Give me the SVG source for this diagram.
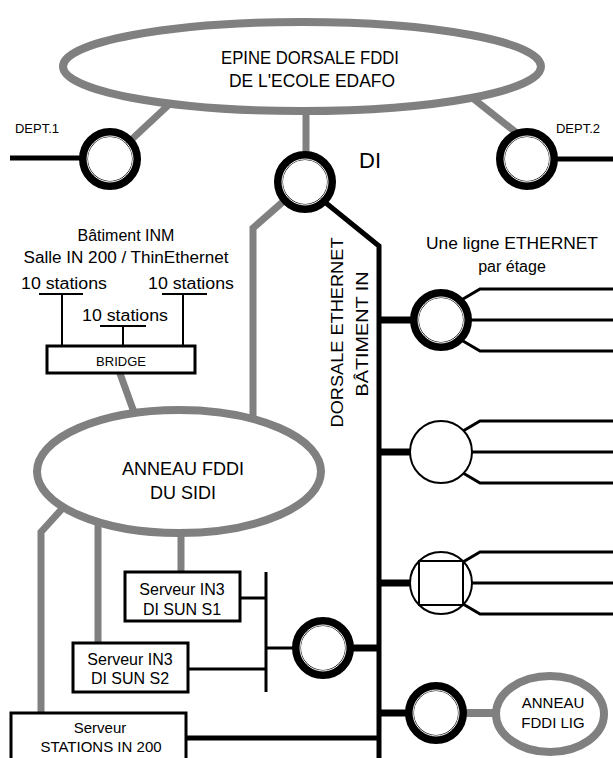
<svg xmlns="http://www.w3.org/2000/svg" width="613" height="758" viewBox="0 0 613 758">
<style>
.g{fill:none;stroke:#808080;stroke-width:7}
.b{fill:none;stroke:#000;stroke-width:5}
.bc{fill:none;stroke:#000;stroke-width:7}
.bt{fill:none;stroke:#000;stroke-width:3}
.bs{fill:none;stroke:#000;stroke-width:2}
.ring{fill:#fff;stroke:#000;stroke-width:9}
.rin{fill:none;stroke:#fff;stroke-width:1}
.circ{fill:#fff;stroke:#000;stroke-width:2}
.ell{fill:#fff;stroke:#808080;stroke-width:8}
.box{fill:#fff;stroke:#000;stroke-width:3}
text{font-family:"Liberation Sans",Arial,sans-serif;fill:#000;text-anchor:middle}
.cap{font-size:16px}
.hw{font-size:16px}
</style>
<rect width="613" height="758" fill="#fff"/>
<g id="connectors">
  <path class="g" d="M175,99 L131,140"/>
  <path class="g" d="M306,100 L306,160"/>
  <path class="g" d="M470,96 L518,134"/>
  <path class="g" d="M285,200 L253,228 L253,430"/>
  <path class="b" d="M326,203 L379,246 L379,758"/>
  <path class="b" d="M10,158 L85,158"/>
  <path class="b" d="M552,159 L613,159"/>
  <path class="g" d="M118,368 L135,415"/>
  <path class="g" d="M181,520 L181,574"/>
  <path class="g" d="M98,510 L98,644"/>
  <path class="g" d="M70,500 L41,532 L41,714"/>
  <path class="bs" d="M39,294 L83,294 M62,294 L62,347 M162,294 L207,294 M183,294 L183,347 M100,326 L146,326 M123,326 L123,347"/>
  <path class="bc" d="M379,320 L420,320 M379,452 L420,452 M379,583 L420,583 M379,648 L330,648 M379,713 L420,713"/>
  <path class="bt" d="M463,299 L480,289 L613,289 M441,320 L613,320 M463,341 L480,351 L613,351"/>
  <path class="bt" d="M463,431 L480,421 L613,421 M441,452 L613,452 M463,473 L480,483 L613,483"/>
  <path class="bt" d="M463,562 L480,552 L613,552 M441,583 L613,583 M463,604 L480,614 L613,614"/>
  <path class="bt" d="M266,572 L266,692 M266,648 L300,648 M240,598 L266,598 M188,669 L266,669"/>
  <path class="b" d="M186,738 L379,738"/>
  <path class="g" style="stroke-width:8" d="M460,713 L500,713"/>
</g>
<g id="epine">
  <ellipse class="ell" cx="302" cy="66.5" rx="239" ry="44.5"/>
  <text x="310" y="63.5" style="font-size:18px" textLength="178" lengthAdjust="spacingAndGlyphs">EPINE DORSALE FDDI</text>
  <text x="312" y="87" style="font-size:18px" textLength="166" lengthAdjust="spacingAndGlyphs">DE L'ECOLE  EDAFO</text>
</g>
<g id="dept1">
  <circle class="ring" cx="110" cy="159" r="26.5"/><circle class="rin" cx="110" cy="159" r="23"/>
  <text x="37" y="133" style="font-size:13px">DEPT.1</text>
</g>
<g id="dept2">
  <circle class="ring" cx="527" cy="159" r="26.5"/><circle class="rin" cx="527" cy="159" r="23"/>
  <text x="578" y="133" style="font-size:13px">DEPT.2</text>
</g>
<g id="di">
  <circle class="ring" cx="305" cy="182" r="26.5"/><circle class="rin" cx="305" cy="182" r="23"/>
  <text x="370" y="168" style="font-size:22px">DI</text>
</g>
<g id="dorsale-label">
  <text transform="translate(343,332.5) rotate(-90)" style="font-size:17px" textLength="190" lengthAdjust="spacingAndGlyphs">DORSALE  ETHERNET</text>
  <text transform="translate(368,334) rotate(-90)" style="font-size:17px" textLength="125" lengthAdjust="spacingAndGlyphs">BÂTIMENT  IN</text>
</g>
<g id="inm-label">
  <text class="hw" x="126" y="240.5">Bâtiment INM</text>
  <text class="hw" x="126" y="262.5" textLength="205" lengthAdjust="spacingAndGlyphs">Salle IN 200 / ThinEthernet</text>
  <text class="hw" x="64" y="289" textLength="86" lengthAdjust="spacingAndGlyphs">10 stations</text>
  <text class="hw" x="191" y="289" textLength="86" lengthAdjust="spacingAndGlyphs">10 stations</text>
  <text class="hw" x="125" y="321" textLength="86" lengthAdjust="spacingAndGlyphs">10 stations</text>
</g>
<g id="bridge">
  <rect class="box" x="47" y="346" width="148" height="27"/>
  <text x="121" y="365.5" style="font-size:13px">BRIDGE</text>
</g>
<g id="ethernet-label">
  <text class="hw" x="512" y="249" textLength="172" lengthAdjust="spacingAndGlyphs">Une ligne ETHERNET</text>
  <text class="hw" x="512" y="272">par étage</text>
</g>
<g id="eth1">
  <circle class="ring" cx="441" cy="320" r="26.5"/><circle class="rin" cx="441" cy="320" r="23"/>
</g>
<g id="eth2">
  <circle class="circ" cx="441" cy="452" r="31"/>
</g>
<g id="eth3">
  <circle class="circ" cx="441" cy="583" r="31"/>
  <rect x="419" y="561" width="44" height="44" fill="none" stroke="#000" stroke-width="2"/>
</g>
<g id="sidi">
  <ellipse class="ell" cx="179" cy="471.5" rx="142" ry="61.5"/>
  <text x="183" y="474.5" style="font-size:18px">ANNEAU FDDI</text>
  <text x="183" y="498.5" style="font-size:18px">DU SIDI</text>
</g>
<g id="s1">
  <rect class="box" x="125" y="572" width="115" height="49"/>
  <text class="cap" x="182" y="594.5">Serveur IN3</text>
  <text class="cap" x="182" y="614.5">DI SUN S1</text>
</g>
<g id="s2">
  <rect class="box" x="73" y="643" width="115" height="49"/>
  <text class="cap" x="130" y="665">Serveur IN3</text>
  <text class="cap" x="130" y="684">DI SUN S2</text>
</g>
<g id="hub">
  <circle class="ring" cx="323" cy="648" r="26.5"/><circle class="rin" cx="323" cy="648" r="23"/>
</g>
<g id="lig-router">
  <circle class="ring" cx="436" cy="713" r="26.5"/><circle class="rin" cx="436" cy="713" r="23"/>
</g>
<g id="lig">
  <ellipse class="ell" cx="550" cy="714" rx="54" ry="38"/>
  <text x="553" y="708" style="font-size:15px">ANNEAU</text>
  <text x="553" y="728" style="font-size:15px">FDDI  LIG</text>
</g>
<g id="stations">
  <rect class="box" x="11" y="713" width="175" height="55"/>
  <text style="font-size:15px" x="100" y="733">Serveur</text>
  <text style="font-size:15px" x="101" y="752">STATIONS IN 200</text>
</g>
</svg>
